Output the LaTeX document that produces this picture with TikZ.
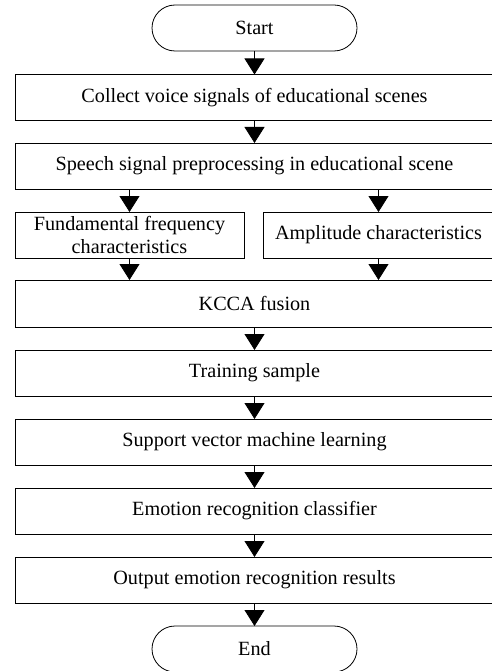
\documentclass[tikz,border=0pt]{standalone}
\usepackage{fontspec}
\setmainfont{Liberation Serif}
\usetikzlibrary{arrows.meta}
\begin{document}
\begin{tikzpicture}[x=1pt,y=-1pt,
  box/.style={draw,line width=0.8pt,inner sep=0pt,outer sep=0pt,minimum height=46pt,
    font=\fontsize{20.2}{22.5}\selectfont,align=center},
  wide/.style={box,minimum width=479pt},
  term/.style={box,minimum width=205pt,rounded corners=23pt},
  arr/.style={line width=0.8pt,-{Triangle[width=20pt,length=16pt]}}]
\useasboundingbox (0,0) rectangle (491,671);
\node[term] (start) at (254.5,28) {Start};
\node[wide] (b1) at (254.5,97.5) {Collect voice signals of educational scenes};
\node[wide] (b2) at (254.5,166) {Speech signal preprocessing in educational scene};
\node[box,minimum width=229pt] (f) at (129.5,235) {Fundamental frequency\\characteristics};
\node[box,minimum width=231pt] (a) at (378.5,235) {Amplitude characteristics};
\node[wide,minimum height=47pt] (k) at (254.5,303.5) {KCCA fusion};
\node[wide] (t) at (254.5,373) {Training sample};
\node[wide] (s) at (254.5,442) {Support vector machine learning};
\node[wide] (e) at (254.5,511) {Emotion recognition classifier};
\node[wide] (o) at (254.5,580) {Output emotion recognition results};
\node[term] (end) at (254.5,649) {End};
\draw[arr] (start) -- (b1);
\draw[arr] (b1) -- (b2);
\draw[arr] (f.north |- b2.south) -- (f.north);
\draw[arr] (a.north |- b2.south) -- (a.north);
\draw[arr] (f.south) -- (f.south |- k.north);
\draw[arr] (a.south) -- (a.south |- k.north);
\draw[arr] (k.south -| start) -- (t.north -| start);
\draw[arr] (t.south -| start) -- (s.north -| start);
\draw[arr] (s.south -| start) -- (e.north -| start);
\draw[arr] (e.south -| start) -- (o.north -| start);
\draw[arr] (o.south -| start) -- (end.north);
\end{tikzpicture}
\end{document}
